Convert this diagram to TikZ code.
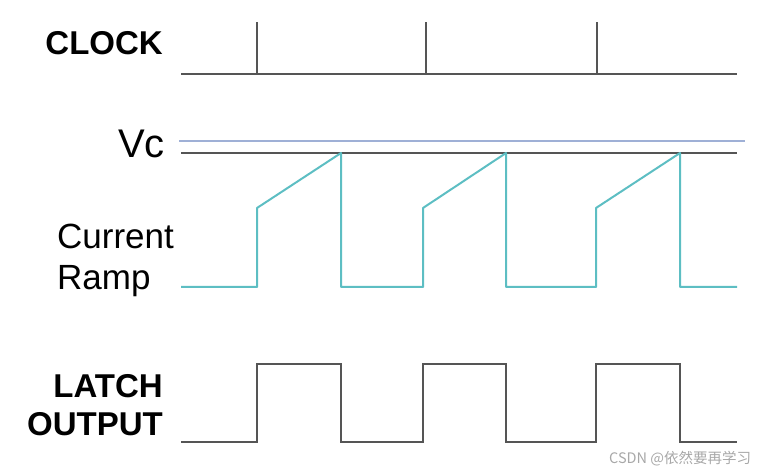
\documentclass[tikz,border=0pt]{standalone}
\usepackage{fontspec}
\setmainfont{Liberation Sans}
\newfontfamily\cjkfont{Noto Sans CJK SC}
\usetikzlibrary{positioning}
\definecolor{waveGray}{HTML}{555555}
\definecolor{rampTeal}{HTML}{5DBEC3}
\definecolor{vcBlue}{HTML}{9FB0D6}
\definecolor{markGray}{HTML}{A8A8A8}
\tikzset{
  waveK/.style={waveGray, line width=2pt},
  waveT/.style={rampTeal, line width=2pt},
  refB/.style={vcBlue, line width=1.6pt},
  lblB/.style={font=\bfseries\fontsize{33}{38}\selectfont, inner sep=0pt},
  lblN/.style={font=\fontsize{35}{41}\selectfont, inner sep=0pt},
}

\begin{document}
\begin{tikzpicture}[x=1pt, y=-1pt]
    \useasboundingbox (0,0) rectangle (758,470);

    %% Etiquetas
    \node[lblB, anchor=base east] (clk) at (163,55) {CLOCK};
    \node[font=\fontsize{40}{46}\selectfont, inner sep=0pt, anchor=base east] (vc) at (165,158) {Vc};
    \node[lblN, anchor=base west] (cur) at (57,249) {Current};
    \node[lblN, anchor=base west] (ramp) at (57,290) {Ramp};
    \node[lblB, anchor=base east] (latch) at (163,397) {LATCH};
    \node[lblB, anchor=base east] (out) at (163,435) {OUTPUT};

    %% Fila 1: CLOCK
    \draw[waveK] (181,74) -- (737,74);
    \foreach \t in {257, 426, 597}
        \draw[waveK] (\t,74) -- (\t,22);

    %% Fila 2: Vc + rampa
    \draw[refB] (179,141) -- (745,141);
    \draw[waveK] (181,153) -- (737,153);
    \draw[waveT, line join=round] (181,287) -- (257,287) -- (257,208) -- (341,153) -- (341,287)
        -- (423,287) -- (423,208) -- (506,153) -- (506,287)
        -- (596,287) -- (596,208) -- (680,153) -- (680,287) -- (737,287);

    %% Fila 3: LATCH OUTPUT
    \draw[waveK] (181,442) -- (257,442) -- (257,364) -- (341,364) -- (341,442)
        -- (423,442) -- (423,364) -- (506,364) -- (506,442)
        -- (596,442) -- (596,364) -- (680,364) -- (680,442) -- (737,442);

    %% marca de agua
    \node[font=\cjkfont\fontsize{14.5}{17}\selectfont, text=markGray, inner sep=0pt, anchor=base west]
         (wm) at (609,463) {CSDN @依然要再学习};
\end{tikzpicture}
\end{document}
